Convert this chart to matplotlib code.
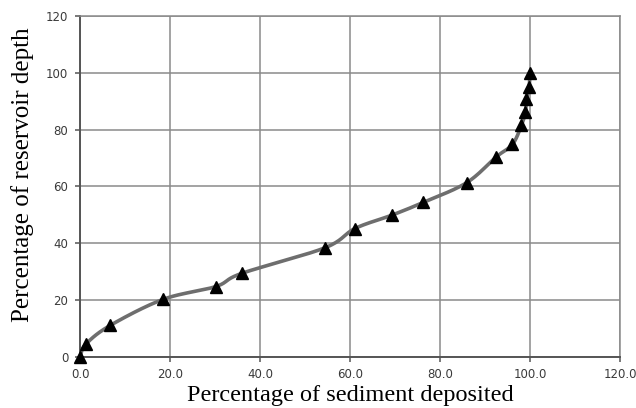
import numpy as np
import matplotlib
matplotlib.use("Agg")
import matplotlib.pyplot as plt

# Cumulative sediment deposited (%) vs relative reservoir depth (%)
sediment_pct = [0.0, 1.3, 6.7, 18.5, 30.2, 35.9, 54.4, 61.1, 69.3, 76.3,
                85.9, 92.5, 96.1, 98.1, 99.0, 99.2, 99.8, 100.0]
depth_pct = [0.0, 4.5, 11.1, 20.3, 24.8, 29.4, 38.4, 45.2, 49.9, 54.4,
             61.3, 70.4, 74.8, 81.5, 86.2, 90.6, 95.0, 100.0]

x_ticks = [0, 20, 40, 60, 80, 100, 120]
y_ticks = [0, 20, 40, 60, 80, 100, 120]


def smooth_curve(x, y, n=30):
    """Catmull-Rom style Bezier smoothing through every point."""
    x = np.asarray(x, float)
    y = np.asarray(y, float)
    px = np.concatenate([[x[0]], x, [x[-1]]])
    py = np.concatenate([[y[0]], y, [y[-1]]])
    xs, ys = [], []
    t = np.linspace(0, 1, n)
    for i in range(1, len(px) - 2):
        p0 = np.array([px[i], py[i]])
        p3 = np.array([px[i + 1], py[i + 1]])
        p1 = p0 + (np.array([px[i + 1], py[i + 1]]) - np.array([px[i - 1], py[i - 1]])) / 6
        p2 = p3 - (np.array([px[i + 2], py[i + 2]]) - np.array([px[i], py[i]])) / 6
        b = ((1 - t) ** 3)[:, None] * p0 + (3 * (1 - t) ** 2 * t)[:, None] * p1 \
            + (3 * (1 - t) * t ** 2)[:, None] * p2 + (t ** 3)[:, None] * p3
        xs.extend(b[:, 0])
        ys.extend(b[:, 1])
    return np.array(xs), np.array(ys)


fig = plt.figure(figsize=(6.36, 4.08), dpi=100)
ax = fig.add_axes([0.1258, 0.125, 0.849, 0.836])

sx, sy = smooth_curve(sediment_pct, depth_pct)
ax.plot(sx, sy, color="#6e6e6e", lw=2.6, solid_capstyle="round", zorder=3)
ax.plot(sediment_pct, depth_pct, linestyle="none", marker="^", markersize=8,
        color="black", zorder=4, clip_on=False)

ax.set_xlim(0, 120)
ax.set_ylim(0, 120)
ax.set_xticks(x_ticks)
ax.set_yticks(y_ticks)
ax.set_xticklabels([f"{v:.1f}" for v in x_ticks])
ax.set_yticklabels([f"{v}" for v in y_ticks])

ax.grid(True, color="#8a8a8a", lw=1.1)
ax.set_axisbelow(True)
for side in ["top", "right"]:
    ax.spines[side].set_color("#8a8a8a")
    ax.spines[side].set_linewidth(1.1)
for side in ["left", "bottom"]:
    ax.spines[side].set_color("#555555")
    ax.spines[side].set_linewidth(1.4)

ax.tick_params(axis="both", length=3.5, width=1.1, color="#555555",
               labelsize=8.5, labelcolor="#3a3a3a")
ax.tick_params(axis="x", pad=4.5)
ax.tick_params(axis="y", pad=5)
for lab in ax.get_xticklabels() + ax.get_yticklabels():
    lab.set_family("DejaVu Sans")

ax.set_xlabel("Percentage of sediment deposited", family="Liberation Serif",
              fontsize=17.5, labelpad=3)
fig.text(0.035, 0.571, "Percentage of reservoir depth", family="Liberation Serif",
         fontsize=18, rotation=90, ha="center", va="center")

fig.savefig("out.png", dpi=100)
